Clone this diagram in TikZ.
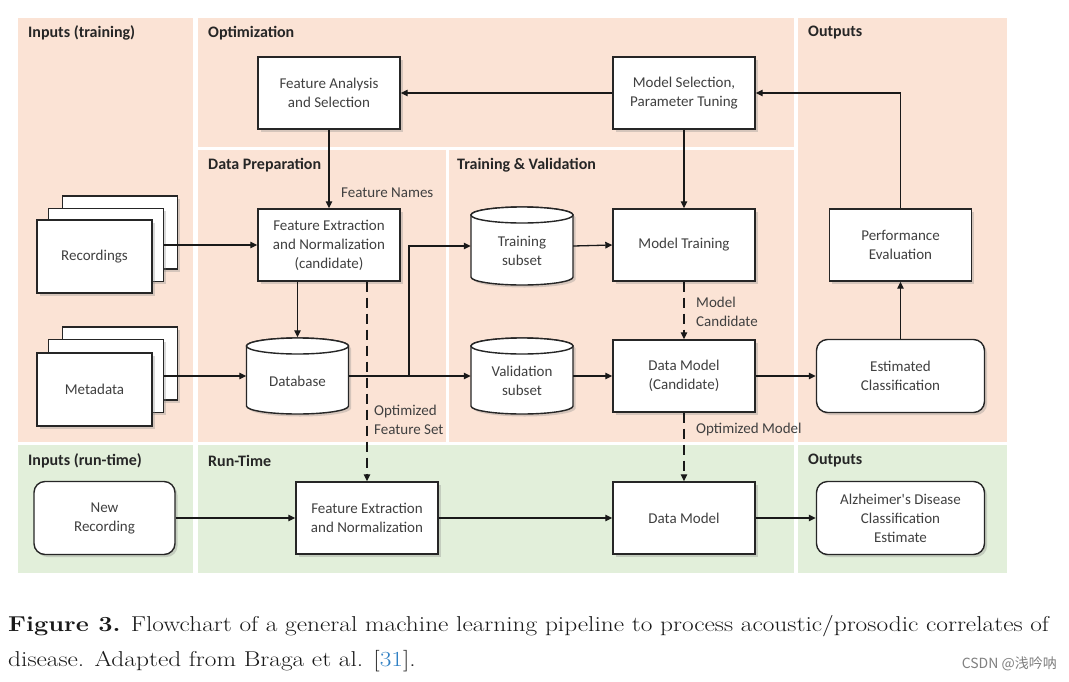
\documentclass[tikz,border=0pt]{standalone}
\usepackage{fontspec}
\newfontfamily\carl{Carlito}
\newfontfamily\cjkf{Noto Sans CJK SC}
\usetikzlibrary{arrows.meta,shadows}
\definecolor{pinkbg}{HTML}{FBE3D5}
\definecolor{greenbg}{HTML}{E2EFDA}
\definecolor{txt}{HTML}{404040}
\definecolor{linkblue}{HTML}{2F80C4}
\begin{document}
\begin{tikzpicture}[x=1pt,y=-1pt,
 ptitle/.style={anchor=west, font=\carl\bfseries\fontsize{16}{18}\selectfont, text=black!85, inner sep=0},
 box/.style={draw=black!85, line width=1.4pt, fill=white,
   drop shadow={opacity=0.3, shadow xshift=2.5pt, shadow yshift=-2.5pt},
   minimum width=142pt, minimum height=72pt, align=center,
   font=\carl\fontsize{15}{19}\selectfont, text=txt, inner sep=2pt},
 rbox/.style={box, rounded corners=11pt, minimum width=168pt, minimum height=73pt},
 card/.style={box, minimum width=115pt, minimum height=73pt},
 cylst/.style={draw=black!85, line width=1.4pt, fill=white,
   drop shadow={opacity=0.3, shadow xshift=2.5pt, shadow yshift=-2.5pt}},
 cylst2/.style={draw=black!85, line width=1.4pt, fill=white},
 cylanchor/.style={minimum width=102pt, minimum height=77pt, inner sep=0},
 cyltext/.style={align=center, font=\carl\fontsize{15}{19}\selectfont, text=txt, inner sep=0},
 arr/.style={-{Triangle[length=7pt,width=6.5pt]}, line width=1.3pt, draw=black!90},
 dsh/.style={dash pattern=on 10pt off 6pt},
 lbl/.style={font=\carl\fontsize{15}{19}\selectfont, text=txt, align=left, inner sep=0, anchor=west},
 captext/.style={font=\fontsize{21.5}{30}\selectfont, text=black!90, inner sep=0},
]
\useasboundingbox (0,0) rectangle (1069,681);
\fill[white] (0,0) rectangle (1069,681);
% panels
\fill[pinkbg] (18,18) rectangle (193,442);
\fill[pinkbg] (198,18) rectangle (794,147);
\fill[pinkbg] (198,150) rectangle (446,442);
\fill[pinkbg] (449,150) rectangle (794,442);
\fill[pinkbg] (798,18) rectangle (1007,442);
\fill[greenbg] (18,445) rectangle (193,573);
\fill[greenbg] (198,445) rectangle (794,573);
\fill[greenbg] (798,445) rectangle (1007,573);
% titles
\node[ptitle] (t1) at (28,33) {Inputs (training)};
\node[ptitle] (t2) at (208,33) {Optimization};
\node[ptitle] (t3) at (808,33) {Outputs};
\node[ptitle] (t4) at (208,165) {Data Preparation};
\node[ptitle] (t5) at (457,165) {Training \& Validation};
\node[ptitle] (t6) at (28,461) {Inputs (run-time)};
\node[ptitle] (t7) at (208,461) {Run-Time};
\node[ptitle] (t8) at (808,461) {Outputs};
% boxes
\node[box] (fas) at (329,93) {Feature Analysis\\and Selection};
\node[box] (mst) at (684,93) {Model Selection,\\Parameter Tuning};
\node[box] (fen) at (329,245) {Feature Extraction\\and Normalization\\(candidate)};
\node[box] (mtr) at (684,245) {Model Training};
\node[box] (pev) at (900.5,245) {Performance\\Evaluation};
\node[box] (dmc) at (684,376) {Data Model\\(Candidate)};
\node[rbox] (ecl) at (900.5,376) {Estimated\\Classification};
\node[rbox, minimum width=141pt] (newr) at (104.5,518) {New\\Recording};
\node[box] (fer) at (367,518) {Feature Extraction\\and Normalization};
\node[box] (dmr) at (684,518) {Data Model};
\node[rbox] (alz) at (900.5,518) {Alzheimer's Disease\\Classification\\Estimate};
% stacked cards
\node[card] (recB) at (120,232.5) {};
\node[card] (recM) at (106,245) {};
\node[card] (rec) at (94.5,256.5) {Recordings};
\node[card] (metB) at (120,363.5) {};
\node[card] (metM) at (106,376) {};
\node[card] (met) at (94.5,389.5) {Metadata};
% cylinders
\foreach \cx/\top/\bot in {522/207/285, 522/338/414, 297.5/338/414}{
  \draw[cylst] (\cx-51,\top+8) -- (\cx-51,\bot-8)
    arc[start angle=180,end angle=0,x radius=51,y radius=8]
    -- (\cx+51,\top+8)
    arc[start angle=0,end angle=-180,x radius=51,y radius=8] -- cycle;
  \draw[cylst2] (\cx,\top+8) ellipse [x radius=51, y radius=8];
}
\node[cylanchor] (tsub) at (522,246) {};
\node[cylanchor] (vsub) at (522,376) {};
\node[cylanchor] (db) at (297.5,376) {};
\node[cyltext] (tsubt) at (522,251) {Training\\subset};
\node[cyltext] (vsubt) at (522,381) {Validation\\subset};
\node[cyltext] (dbt) at (297.5,381) {Database};
% labels
\node[lbl] (lfn) at (341,193) {Feature Names};
\node[lbl] (lofs) at (374,420) {Optimized\\Feature Set};
\node[lbl] (lmc) at (696,312) {Model\\Candidate};
\node[lbl] (lom) at (696,429) {Optimized Model};
% connectors
\draw[arr] (mst.west) -- (fas.east);
\draw[arr] (pev.north) |- (mst.east);
\draw[arr] (mst.south) -- (mtr.north);
\draw[arr] (fas.south) -- (fen.north);
\draw[arr] (recM.east) -- (fen.west);
\draw[arr] (metM.east) -- (db.west);
\draw[arr] (db.north |- fen.south) -- (db.north);
\draw[arr,dsh] (fer.north |- fen.south) -- (fer.north);
\coordinate (jn) at (409,376);
\draw[arr] (db.east) -- (vsub.west);
\draw[arr] (jn) |- (tsub.west);
\draw[arr] (tsub.east) -- (mtr.west);
\draw[arr] (vsub.east) -- (dmc.west);
\draw[arr,dsh] (mtr.south) -- (dmc.north);
\draw[arr] (dmc.east) -- (ecl.west);
\draw[arr] (ecl.north) -- (pev.south);
\draw[arr,dsh] (dmc.south) -- (dmr.north);
\draw[arr] (newr.east) -- (fer.west);
\draw[arr] (fer.east) -- (dmr.west);
\draw[arr] (dmr.east) -- (alz.west);
% caption
\node[captext, anchor=base west] (cap1) at (8,631) {\scalebox{1.18}[1]{\textbf{Figure 3.} Flowchart of a general machine learning pipeline to process acoustic/prosodic correlates of}};
\node[captext, anchor=base west] (cap2) at (8,666) {\scalebox{1.18}[1]{disease. Adapted from Braga et al. [\textcolor{linkblue}{31}].}};
\node[anchor=east, font=\cjkf\fontsize{14}{16}\selectfont, text=black!50, inner sep=0] (wm) at (1057,664) {CSDN @浅吟呐};
\end{tikzpicture}
\end{document}
